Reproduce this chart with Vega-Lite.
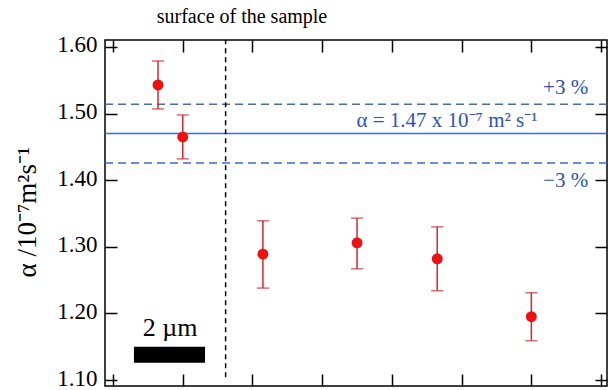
{
  "$schema": "https://vega.github.io/schema/vega-lite/v6.json",
  "width": 502,
  "height": 346,
  "autosize": "none",
  "padding": {"left": 105, "top": 40, "right": 4, "bottom": 4},
  "background": "white",
  "config": {
    "view": {"stroke": "black", "strokeWidth": 1.5},
    "font": "Liberation Serif",
    "axis": {"domain": false, "grid": false, "tickColor": "black", "tickWidth": 1.5, "tickSize": -12, "labelColor": "black", "labelFont": "Liberation Serif", "labelFontSize": 23}
  },
  "datasets": {
    "pts": [
      {"x": 1.29, "a": 1.543, "lo": 1.507, "hi": 1.579},
      {"x": 2.0, "a": 1.465, "lo": 1.432, "hi": 1.498},
      {"x": 4.3, "a": 1.289, "lo": 1.238, "hi": 1.339},
      {"x": 7.0, "a": 1.306, "lo": 1.267, "hi": 1.343},
      {"x": 9.3, "a": 1.282, "lo": 1.234, "hi": 1.330},
      {"x": 12.0, "a": 1.195, "lo": 1.159, "hi": 1.231}
    ],
    "refs": [
      {"y": 1.4700, "kind": "mean"},
      {"y": 1.5141, "kind": "band"},
      {"y": 1.4259, "kind": "band"}
    ],
    "labels": [
      {"x": 13.63, "y": 1.538, "t": "+3 %"},
      {"x": 13.63, "y": 1.399, "t": "−3 %"}
    ]
  },
  "layer": [
    {
      "data": {"name": "refs"},
      "transform": [{"filter": "datum.kind == 'band'"}],
      "mark": {"type": "rule", "color": "#3d6cc9", "strokeWidth": 1.5, "strokeDash": [8, 5]},
      "encoding": {"y": {"field": "y", "type": "quantitative", "scale": {"domain": [1.091, 1.6105], "nice": false, "zero": false}, "axis": null}}
    },
    {
      "data": {"name": "refs"},
      "transform": [{"filter": "datum.kind == 'mean'"}],
      "mark": {"type": "rule", "color": "#3d6cc9", "strokeWidth": 1.5},
      "encoding": {"y": {"field": "y", "type": "quantitative", "axis": null}}
    },
    {
      "data": {"values": [{"x": 3.23, "y1": 1.104, "y2": 1.6105}]},
      "mark": {"type": "rule", "color": "black", "strokeWidth": 1.5, "strokeDash": [5, 4]},
      "encoding": {
        "x": {"field": "x", "type": "quantitative", "axis": null},
        "y": {"field": "y1", "type": "quantitative", "axis": null},
        "y2": {"field": "y2"}
      }
    },
    {
      "data": {"name": "pts"},
      "mark": {"type": "rule", "color": "#d9262b", "strokeWidth": 1.5},
      "encoding": {
        "x": {"field": "x", "type": "quantitative", "axis": {"orient": "top", "values": [0, 2, 4, 6, 8, 10, 12, 14], "labels": false, "title": null}},
        "y": {"field": "lo", "type": "quantitative", "axis": {"orient": "right", "values": [1.1, 1.2, 1.3, 1.4, 1.5, 1.6], "labels": false, "title": null}},
        "y2": {"field": "hi"}
      }
    },
    {
      "data": {"name": "pts"},
      "mark": {"type": "tick", "orient": "horizontal", "color": "#d9262b", "thickness": 1.5, "size": 12},
      "encoding": {
        "x": {"field": "x", "type": "quantitative", "axis": null},
        "y": {"field": "lo", "type": "quantitative", "axis": null}
      }
    },
    {
      "data": {"name": "pts"},
      "mark": {"type": "tick", "orient": "horizontal", "color": "#d9262b", "thickness": 1.5, "size": 12},
      "encoding": {
        "x": {"field": "x", "type": "quantitative", "axis": null},
        "y": {"field": "hi", "type": "quantitative", "axis": null}
      }
    },
    {
      "data": {"name": "pts"},
      "mark": {"type": "circle", "color": "#ee1111", "opacity": 1, "size": 120},
      "encoding": {
        "x": {"field": "x", "type": "quantitative", "scale": {"domain": [-0.23, 14.17], "nice": false, "zero": false}, "axis": {"orient": "bottom", "values": [0, 2, 4, 6, 8, 10, 12, 14], "labels": false, "title": null}},
        "y": {"field": "a", "type": "quantitative", "axis": {"orient": "left", "values": [1.1, 1.2, 1.3, 1.4, 1.5, 1.6], "format": ".2f", "labelPadding": 20, "labelOffset": -2, "title": "α /10⁻⁷m²s⁻¹", "titleFont": "Liberation Serif", "titleFontSize": 27, "titleFontWeight": "normal", "titleColor": "black", "titleAngle": -90, "titleAlign": "left", "titleBaseline": "middle", "titleX": -78, "titleY": 237}}
      }
    },
    {
      "data": {"name": "labels"},
      "mark": {"type": "text", "align": "right", "baseline": "middle", "color": "#2a54b8", "fontSize": 21, "font": "Liberation Serif"},
      "encoding": {
        "x": {"field": "x", "type": "quantitative", "axis": null},
        "y": {"field": "y", "type": "quantitative", "axis": null},
        "text": {"field": "t"}
      }
    },
    {
      "data": {"values": [{"x": 9.58, "y": 1.489, "t": "α = 1.47 x 10⁻⁷ m² s⁻¹"}]},
      "mark": {"type": "text", "align": "center", "baseline": "middle", "color": "#2a54b8", "fontSize": 21, "font": "Liberation Serif"},
      "encoding": {
        "x": {"field": "x", "type": "quantitative", "axis": null},
        "y": {"field": "y", "type": "quantitative", "axis": null},
        "text": {"field": "t"}
      }
    },
    {
      "data": {"values": [{"x": 3.70, "y": 1.645, "t": "surface of the sample"}]},
      "mark": {"type": "text", "align": "center", "baseline": "middle", "color": "black", "fontSize": 20, "font": "Liberation Serif", "clip": false},
      "encoding": {
        "x": {"field": "x", "type": "quantitative", "axis": null},
        "y": {"field": "y", "type": "quantitative", "axis": null},
        "text": {"field": "t"}
      }
    },
    {
      "data": {"values": [{"x": 1.64, "y": 1.178, "t": "2 µm"}]},
      "mark": {"type": "text", "align": "center", "baseline": "middle", "color": "black", "fontSize": 26, "font": "Liberation Serif"},
      "encoding": {
        "x": {"field": "x", "type": "quantitative", "axis": null},
        "y": {"field": "y", "type": "quantitative", "axis": null},
        "text": {"field": "t"}
      }
    },
    {
      "data": {"values": [{"x1": 0.6, "x2": 2.64, "y1": 1.126, "y2": 1.150}]},
      "mark": {"type": "rect", "color": "black"},
      "encoding": {
        "x": {"field": "x1", "type": "quantitative", "axis": null},
        "x2": {"field": "x2"},
        "y": {"field": "y1", "type": "quantitative", "axis": null},
        "y2": {"field": "y2"}
      }
    }
  ],
  "resolve": {"axis": {"x": "independent", "y": "independent"}}
}
